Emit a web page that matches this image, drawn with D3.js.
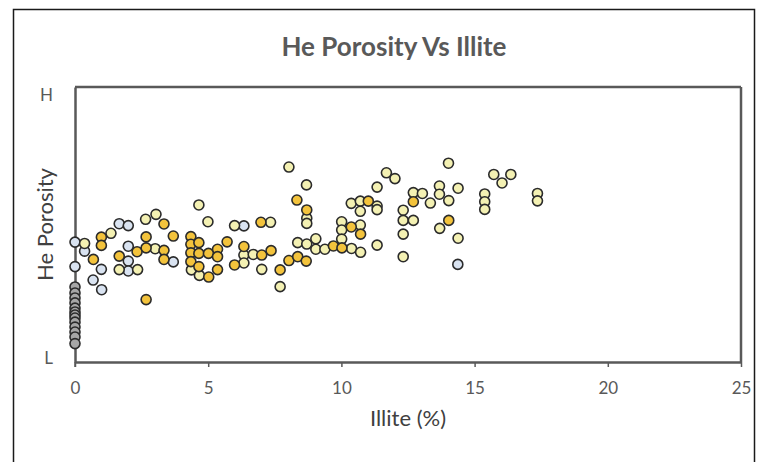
<!DOCTYPE html>
<html>
<head>
<meta charset="utf-8">
<script src="https://cdn.jsdelivr.net/npm/d3@7"></script>
<style>
  html, body { margin: 0; padding: 0; background: #fff; }
  svg { display: block; }
  text { font-family: Lato, "Open Sans", sans-serif; }
</style>
</head>
<body>
<svg id="chart" width="760" height="462"></svg>
<script>
// ---- Data (Illite %, He porosity on a relative 0 (L) .. 100 (H) scale) ----
const title = "He Porosity Vs Illite";
const xTitle = "Illite (%)";
const yTitle = "He Porosity";
const xTicks = [0, 5, 10, 15, 20, 25];
const yTicks = [0, 100];
const yTickLabels = ["L", "H"];

// Series 1 (grey)
const grayX = [0,0,0,0,0,0,0,0,0,0,0,0,0];
const grayY = [27.3,25.1,23.3,21.5,19.6,18.2,17.1,16.0,14.5,12.7,10.9,9.1,6.7];

// Series 2 (light blue)
const blueX = [0,0,0.36,0.99,0.68,1.0,1.66,2.0,2.0,2.0,2.0,3.69,6.34,14.37];
const blueY = [43.6,34.7,40.3,33.7,29.8,26.3,50.3,49.6,42.1,36.7,33.1,36.4,49.5,35.5];

// Series 3 (pale yellow)
const paleX = [0.36,1.35,2.65,3.04,3.01,1.66,2.35,4.37,4.67,4.65,4.99,5.99,6.34,6.34,6.69,7.01,7.34,7.70,
  8.03,8.69,8.70,8.70,8.36,8.70,9.04,9.04,9.38,10.38,10.72,10.01,10.01,10.01,10.71,10.37,10.71,10.71,
  11.34,11.34,11.34,11.69,12.01,11.34,12.32,12.32,12.70,12.32,12.32,12.70,13.04,13.34,13.68,13.68,
  14.02,14.03,14.38,13.69,14.38,15.38,15.38,15.38,15.72,16.36,16.03,17.36,17.36];
const paleY = [43.1,46.8,51.9,53.7,41.2,33.6,33.6,33.5,31.5,57.1,51.0,49.6,38.9,36.0,39.1,33.7,50.8,27.4,
  70.9,64.4,52.3,50.4,43.4,42.9,44.8,41.0,41.0,41.3,39.9,51.0,48.0,44.7,49.8,57.7,58.5,54.8,
  56.7,55.4,63.6,68.8,66.7,42.5,55.2,51.5,51.5,46.5,38.3,61.6,61.3,57.8,64.0,61.0,
  72.3,58.7,63.2,48.6,45.0,61.1,58.3,55.5,68.2,68.2,65.1,61.3,58.6];

// Series 4 (gold)
const goldX = [0.69,0.99,0.99,3.34,3.69,1.66,2.33,2.67,2.67,3.34,3.34,2.67,4.35,4.35,4.35,4.35,4.65,4.65,4.65,
  5.01,5.02,5.35,5.35,5.35,5.71,5.99,6.34,7.01,7.36,6.98,7.70,8.03,8.36,8.68,8.33,8.70,9.70,10.02,10.37,
  10.72,11.01,12.70,14.03];
const goldY = [37.3,45.4,42.4,50.2,45.8,38.5,40.1,45.5,41.5,40.6,37.3,22.7,45.6,42.8,39.7,36.5,43.4,39.5,34.7,
  39.5,30.9,41.0,38.3,33.6,43.7,35.3,42.0,38.9,40.5,50.8,33.5,36.9,38.3,36.7,58.9,55.3,42.2,41.5,49.1,
  46.5,58.5,58.3,51.5];

const series = [
  { name: "grey",  xs: grayX, ys: grayY, fill: "#a6a6a6" },
  { name: "blue",  xs: blueX, ys: blueY, fill: "#d9e3f1" },
  { name: "pale",  xs: paleX, ys: paleY, fill: "#f4f1b3" },
  { name: "gold",  xs: goldX, ys: goldY, fill: "#f3c33c" }
];

// ---- Layout ----
const svg = d3.select("#chart");
const W = 760, H = 462;
const m = { left: 75, right: 19, top: 87, bottom: 100 };
const plotW = W - m.left - m.right;   // 666
const plotH = H - m.top - m.bottom;   // 275

const x = d3.scaleLinear().domain([0, 25]).range([m.left, m.left + plotW]);
const y = d3.scaleLinear().domain([0, 100]).range([m.top + plotH, m.top]);

// outer chart border
svg.append("rect")
  .attr("x", 13.5).attr("y", 9.5).attr("width", 741).attr("height", 460)
  .attr("fill", "#fff").attr("stroke", "#1a1a1a").attr("stroke-width", 1.5);

// title
svg.append("text")
  .attr("x", 394).attr("y", 56)
  .attr("text-anchor", "middle")
  .attr("font-size", 26).attr("font-weight", 700).attr("fill", "#595959")
  .text(title);

// x axis
const xAxis = d3.axisBottom(x).tickValues(xTicks).tickFormat(d3.format("d"))
  .tickSize(5).tickSizeOuter(0).tickPadding(15);
const gx = svg.append("g").attr("transform", `translate(0,${m.top + plotH})`).call(xAxis);
gx.select(".domain").attr("stroke", "#595959").attr("stroke-width", 2.5);
gx.selectAll(".tick line").attr("stroke", "#595959").attr("stroke-width", 1.5);
gx.selectAll(".tick text").attr("font-size", 17).attr("fill", "#595959")
  .attr("font-family", "Lato, sans-serif");

// y axis
const yAxis = d3.axisLeft(y).tickValues(yTicks)
  .tickFormat((d, i) => yTickLabels[i]).tickSize(0).tickPadding(22);
const gy = svg.append("g").attr("transform", `translate(${m.left},0)`).call(yAxis);
gy.select(".domain").attr("stroke", "#595959").attr("stroke-width", 2.5);
gy.selectAll(".tick text").attr("font-size", 17).attr("fill", "#595959")
  .attr("font-family", "Lato, sans-serif");
gy.selectAll(".tick").filter(d => d === 100).select("text").attr("dy", "0.8em");
gy.selectAll(".tick").filter(d => d === 0).select("text").attr("dy", "0.1em");

// top & right frame lines
svg.append("line").attr("x1", x(0)).attr("x2", x(25)).attr("y1", y(100)).attr("y2", y(100))
  .attr("stroke", "#595959").attr("stroke-width", 2.5);
svg.append("line").attr("x1", x(25)).attr("x2", x(25)).attr("y1", y(100)).attr("y2", y(0))
  .attr("stroke", "#595959").attr("stroke-width", 2.5);
// small tick below origin on y-axis line
svg.append("line").attr("x1", x(0)).attr("x2", x(0)).attr("y1", y(0)).attr("y2", y(0) + 5)
  .attr("stroke", "#595959").attr("stroke-width", 1.5);

// axis titles
svg.append("text")
  .attr("x", x(12.5)).attr("y", 426)
  .attr("text-anchor", "middle").attr("font-size", 22).attr("fill", "#404040")
  .text(xTitle);
svg.append("text")
  .attr("transform", `translate(53,${y(50)}) rotate(-90)`)
  .attr("text-anchor", "middle").attr("font-size", 22).attr("fill", "#404040")
  .text(yTitle);

// points
const gp = svg.append("g");
series.forEach(s => {
  const pts = s.xs.map((xv, i) => [xv, s.ys[i]]);
  gp.append("g").selectAll("circle").data(pts).join("circle")
    .attr("cx", d => x(d[0])).attr("cy", d => y(d[1])).attr("r", 5)
    .attr("fill", s.fill).attr("stroke", "#2b2b2b").attr("stroke-width", 1.6);
});
</script>
</body>
</html>
